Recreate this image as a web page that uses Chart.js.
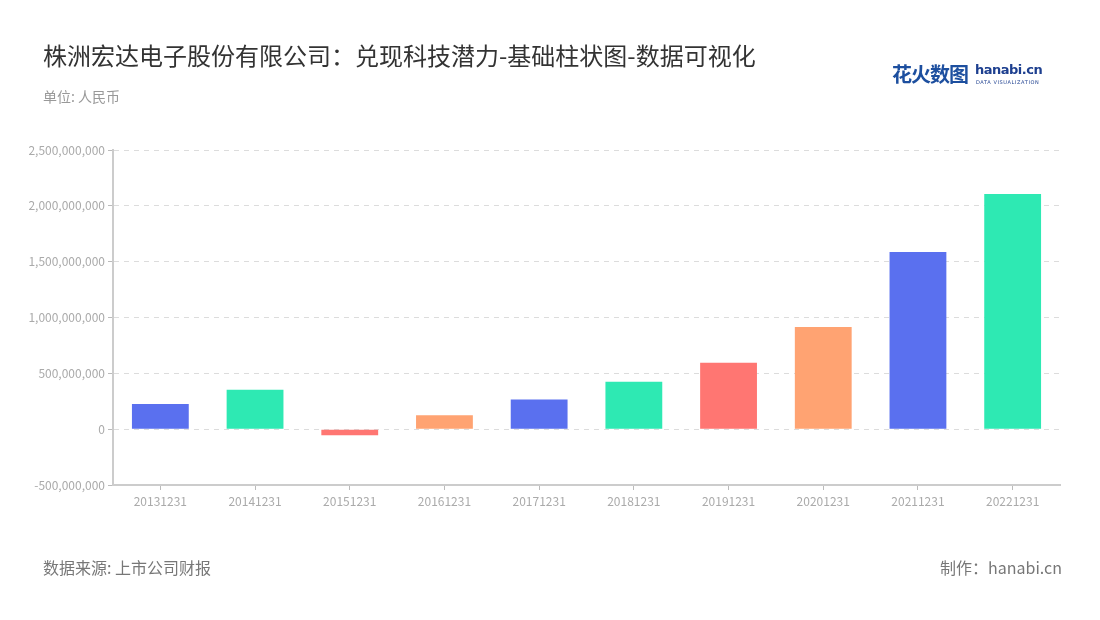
<!DOCTYPE html>
<html>
<head>
<meta charset="utf-8">
<script src="https://cdn.jsdelivr.net/npm/chart.js@4/dist/chart.umd.min.js"></script>
<style>
  html, body { margin: 0; padding: 0; background: #fff; }
  body { width: 1100px; height: 620px; position: relative; overflow: hidden;
         font-family: "Noto Sans CJK SC", "Noto Sans", sans-serif; }
  #wrap { position: absolute; left: 0; top: 0; width: 1100px; height: 620px; }
  .title { position: absolute; left: 43px; top: 37px; font-size: 24px; color: #333; }
  .unit { position: absolute; left: 43px; top: 86px; font-size: 14px; color: #999; }
  .source { position: absolute; left: 43px; top: 555px; font-size: 16px; color: #777; }
  .maker { position: absolute; right: 38px; top: 555px; font-size: 16px; color: #777; }
  .logo { position: absolute; left: 892px; top: 59px; height: 26px; }
  .logo .cn { position: absolute; left: 0; top: 0; font-size: 20px; color: #1d4f9f; font-weight: bold; letter-spacing: -1px; white-space: nowrap; }
  .logo .en { position: absolute; left: 83px; top: 3px; font-size: 13px; color: #1d3f8f; font-weight: bold; font-family: "DejaVu Sans", sans-serif; letter-spacing: -0.5px; }
  .logo .sub { position: absolute; left: 84px; top: 20px; font-size: 5px; color: #1d3f8f; letter-spacing: 0.6px; white-space: nowrap; font-family: "DejaVu Sans", sans-serif; }
</style>
</head>
<body>
<div id="wrap"><canvas id="chart" width="1100" height="620"></canvas></div>
<div class="title">株洲宏达电子股份有限公司：兑现科技潜力-基础柱状图-数据可视化</div>
<div class="unit">单位: 人民币</div>
<div class="logo"><span class="cn">花火数图</span><span class="en">hanabi.cn</span><span class="sub">DATA VISUALIZATION</span></div>
<div class="source">数据来源: 上市公司财报</div>
<div class="maker">制作：hanabi.cn</div>
<script>
const categories = ["20131231", "20141231", "20151231", "20161231", "20171231",
                    "20181231", "20191231", "20201231", "20211231", "20221231"];
const values = [225000000, 352000000, -54000000, 125000000, 266000000,
                424000000, 594000000, 914000000, 1586000000, 2106000000];
const palette = ["#5a70ef", "#2ee9b3", "#ff7672", "#ffa372"];
const yTicks = [-500000000, 0, 500000000, 1000000000, 1500000000, 2000000000, 2500000000];

const ctx = document.getElementById("chart").getContext("2d");
new Chart(ctx, {
  type: "bar",
  data: {
    labels: categories,
    datasets: [{
      label: "",
      data: values,
      backgroundColor: values.map((v, i) => palette[i % palette.length]),
      borderWidth: 0,
      barPercentage: 0.6,
      categoryPercentage: 1,
    }],
  },
  options: {
    responsive: false,
    animation: false,
    layout: { padding: { left: 0, right: 40, top: 150, bottom: 105 } },
    plugins: { legend: { display: false }, tooltip: { enabled: false } },
    scales: {
      x: {
        afterFit: (s) => { s.height = 30; },
        grid: { drawOnChartArea: false, offset: false, tickLength: 5, tickColor: "#bbb" },
        border: { color: "#ccc", width: 2 },
        ticks: { color: "#aaa", font: { size: 12, family: "Noto Sans CJK SC" }, padding: 4 },
      },
      y: {
        min: yTicks[0],
        max: yTicks[yTicks.length - 1],
        afterFit: (s) => { s.width = 113; },
        afterBuildTicks: (s) => { s.ticks = yTicks.map((v) => ({ value: v })); },
        grid: { color: "#dcdcdc", tickBorderDash: [], tickColor: "#bbb", tickLength: 5 },
        border: { color: "#ccc", width: 2, dash: [5, 5] },
        ticks: {
          color: "#aaa",
          font: { size: 12, family: "Noto Sans CJK SC" },
          padding: 3,
          callback: (v) => v.toLocaleString("en-US"),
        },
      },
    },
  },
});
</script>
</body>
</html>
